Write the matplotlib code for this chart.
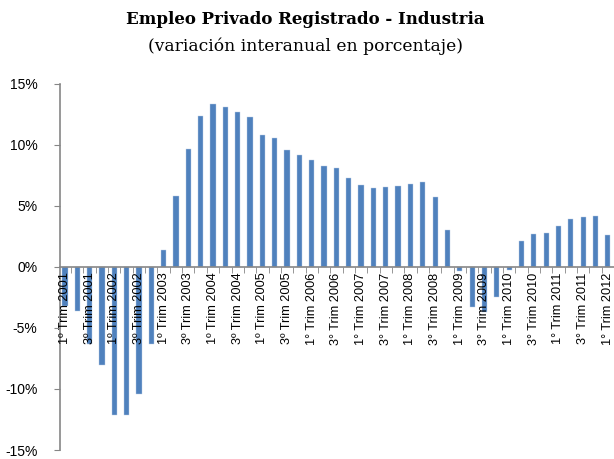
import matplotlib.pyplot as plt
from matplotlib.ticker import FuncFormatter

# variación interanual por trimestre, 1º Trim 2001 .. 1º Trim 2012
quarters = []
for year in range(2001, 2013):
    for q in range(1, 5):
        quarters.append((q, year))
quarters = quarters[:45]

values = [-3.2, -3.6, -6.3, -8.0, -12.1, -12.1, -10.4, -6.3,
          1.4, 5.8, 9.7, 12.4, 13.4, 13.1, 12.7, 12.3,
          10.8, 10.6, 9.6, 9.2, 8.8, 8.3, 8.1, 7.3,
          6.7, 6.45, 6.55, 6.6, 6.8, 6.95, 5.7, 3.0,
          -0.35, -3.3, -3.7, -2.45, -0.25, 2.1, 2.7, 2.75,
          3.4, 3.9, 4.1, 4.15, 2.6]

tick_labels = []
for q, year in quarters:
    sign = "º" if year <= 2005 else "°"
    tick_labels.append(f"{q}{sign} Trim {year}")

fig = plt.figure(figsize=(6.14, 4.59), dpi=100)
ax = fig.add_axes([60 / 614, 1 - 450 / 459, 554 / 614, 366 / 459])
ax.set_axisbelow(False)

x = list(range(len(values)))
ax.bar(x, values, width=0.42, color="#4F81BD", edgecolor="#B9CDE5", linewidth=0.3, zorder=2)

ax.set_ylim(-15, 15)
ax.set_yticks([-15, -10, -5, 0, 5, 10, 15])
ax.yaxis.set_major_formatter(FuncFormatter(lambda v, p: f"{int(v)}%"))
ax.set_xlim(-0.4, len(values) - 1 + 0.32)

for side in ["top", "right"]:
    ax.spines[side].set_visible(False)
ax.spines["bottom"].set_position(("data", 0))
for side in ["bottom", "left"]:
    ax.spines[side].set_color("#868686")
    ax.spines[side].set_linewidth(1.2)

lab_pos = x[::2]
ax.set_xticks(lab_pos)
ax.set_xticklabels(tick_labels[::2], rotation=90, fontsize=9.2,
                   family="Liberation Sans")
ax.set_xticks([i + 0.5 for i in x], minor=True)
ax.tick_params(axis="x", which="major", length=0, pad=4)
ax.tick_params(axis="x", which="minor", length=4, color="#868686", direction="out")
ax.tick_params(axis="y", length=4.3, color="#868686", labelsize=10, pad=12)
for t in ax.get_yticklabels():
    t.set_family("Liberation Sans")

fig.text(0.497, 0.958, "Empleo Privado Registrado - Industria", ha="center", va="center",
         fontsize=12, fontweight="bold", family="DejaVu Serif")
fig.text(0.497, 0.900, "(variación interanual en porcentaje)", ha="center", va="center",
         fontsize=12.3, family="DejaVu Serif")

fig.savefig("out.png", dpi=100)
